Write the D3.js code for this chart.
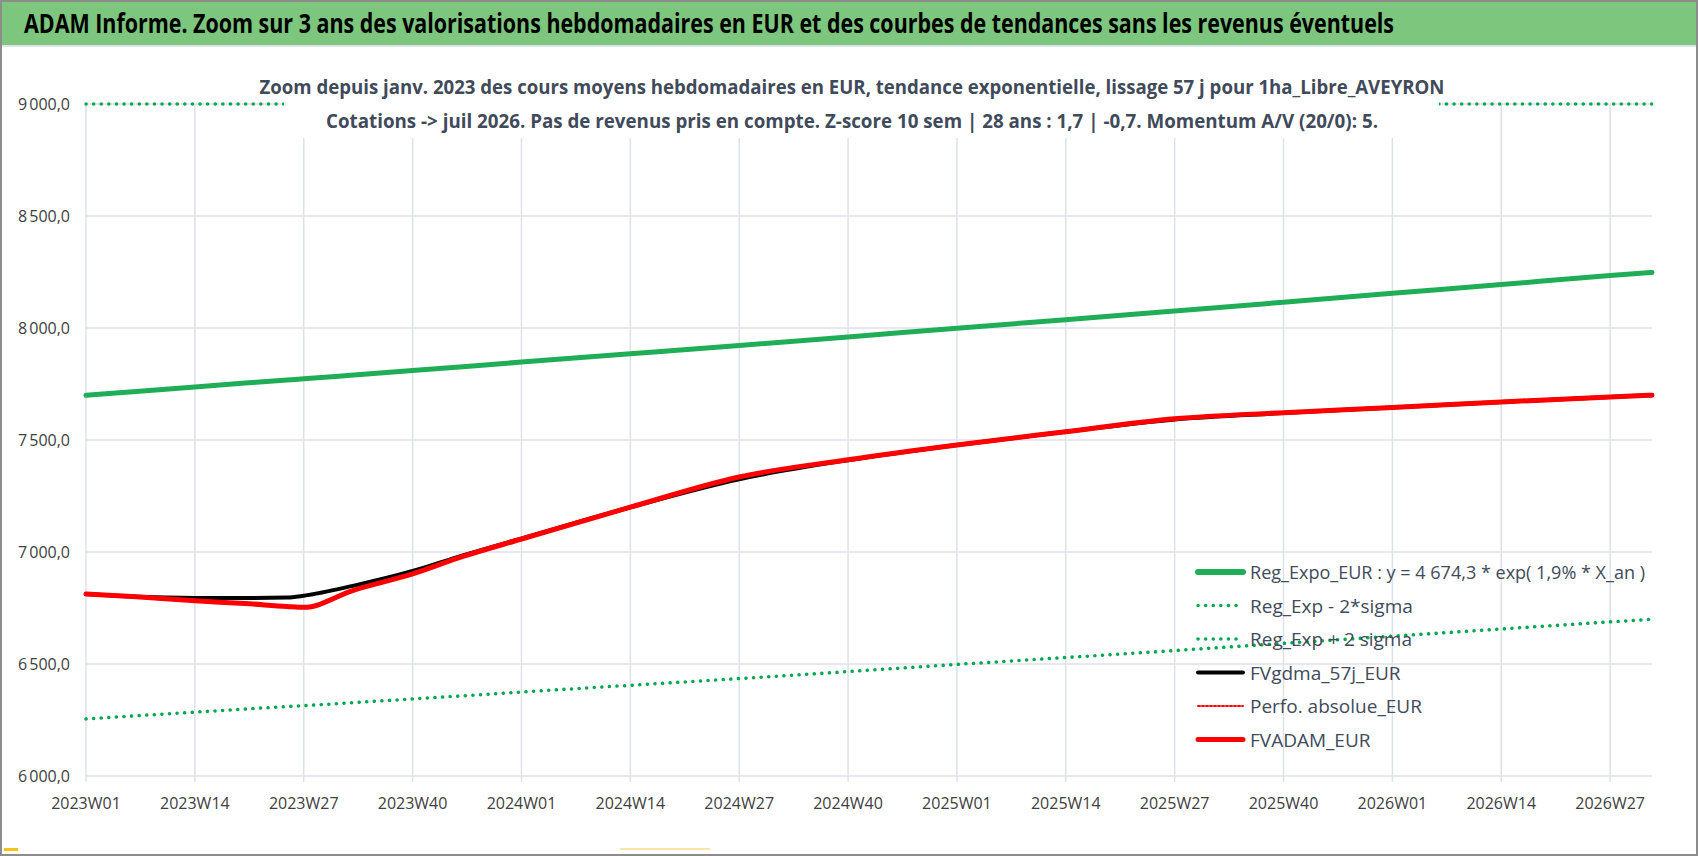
<!DOCTYPE html>
<html lang="fr">
<head>
<meta charset="UTF-8"/>
<script src="https://cdn.jsdelivr.net/npm/d3@7"></script>
<style>
  html, body { margin: 0; background: white; }
  text { font-family: "Liberation Sans Narrow", "Open Sans", sans-serif; }
</style>
</head>
<body>
<div id="container"></div>
<script>
    const sampleWeeks = [0, 6, 13, 19, 24, 26, 32, 39, 45, 52, 65, 78, 91, 104, 117, 130, 143, 156, 169, 182, 187]
    const fvAdam = [6812, 6800, 6782, 6770, 6757, 6753, 6830, 6902, 6980, 7058, 7200, 7335, 7412, 7478, 7537, 7595, 7622, 7645, 7670, 7692, 7700]
    const fvGdma = [6812, 6800, 6795, 6795, 6797, 6805, 6850, 6915, 6985, 7060, 7200, 7325, 7410, 7478, 7537, 7592, 7620, 7645, 7670, 7692, 7700]
    const regExpo = [7700, 7717, 7737, 7754, 7768, 7773, 7790, 7810, 7827, 7848, 7885, 7922, 7960, 7999, 8037, 8076, 8115, 8155, 8194, 8234, 8248]
    const regMinus = [6255, 6269, 6285, 6299, 6310, 6314, 6328, 6344, 6358, 6375, 6405, 6435, 6466, 6498, 6529, 6560, 6592, 6624, 6656, 6688, 6700]
    const regPlus = [9148, 9168, 9192, 9212, 9228, 9234, 9254, 9278, 9298, 9323, 9367, 9411, 9456, 9503, 9548, 9594, 9640, 9688, 9734, 9782, 9799]

    const tickLabels = ['2023W01', '2023W14', '2023W27', '2023W40', '2024W01', '2024W14', '2024W27', '2024W40',
        '2025W01', '2025W14', '2025W27', '2025W40', '2026W01', '2026W14', '2026W27']
    const tickWeeks = [0, 13, 26, 39, 52, 65, 78, 91, 104, 117, 130, 143, 156, 169, 182]
    const yTicks = [6000, 6500, 7000, 7500, 8000, 8500, 9000]

    const W = 1698, H = 856
    const svg = d3.select('#container').append('svg').attr('width', W).attr('height', H)

    // frame + title bar
    svg.append('rect').attr('x', 1).attr('y', 1).attr('width', W - 2).attr('height', H - 2)
        .attr('fill', 'white').attr('stroke', '#8c8c8c').attr('stroke-width', 2)
    svg.append('rect').attr('x', 2).attr('y', 2).attr('width', W - 4).attr('height', 43).attr('fill', '#7dc67e')
    svg.append('line').attr('x1', 2).attr('x2', W - 2).attr('y1', 46).attr('y2', 46).attr('stroke', '#dfe3ea').attr('stroke-width', 2)
    svg.append('text').attr('x', 24).attr('y', 33).attr('font-size', 26).attr('font-weight', 'bold').attr('fill', '#000')
        .attr('textLength', 1370).attr('lengthAdjust', 'spacingAndGlyphs')
        .text('ADAM Informe. Zoom sur 3 ans des valorisations hebdomadaires en EUR et des courbes de tendances sans les revenus éventuels')

    const x = d3.scaleLinear().domain([0, 187]).range([86, 1652])
    const y = d3.scaleLinear().domain([6000, 9000]).range([776, 104]).clamp(true)

    const g = svg.append('g')

    // gridlines
    g.selectAll('.hg').data(yTicks).join('line')
        .attr('x1', x(0)).attr('x2', 1652).attr('y1', d => y(d)).attr('y2', d => y(d))
        .attr('stroke', '#dde1ea').attr('stroke-width', 1.5)
    g.selectAll('.vg').data(tickWeeks).join('line')
        .attr('x1', d => x(d)).attr('x2', d => x(d)).attr('y1', y(9000)).attr('y2', y(6000) + 6)
        .attr('stroke', '#dde1ea').attr('stroke-width', 1.5)

    g.selectAll('.yl').data(yTicks).join('text')
        .attr('x', 70).attr('y', d => y(d) + 6).attr('text-anchor', 'end')
        .attr('font-size', 16).attr('fill', '#404040')
        .text(d => d3.format(',.1f')(d).replace(',', '\u202f').replace('.', ','))
    g.selectAll('.xl').data(tickWeeks).join('text')
        .attr('x', d => x(d)).attr('y', 809).attr('text-anchor', 'middle')
        .attr('font-size', 16).attr('fill', '#404040')
        .text((d, i) => tickLabels[i])

    const line = vals => d3.line().x((d, i) => x(sampleWeeks[i])).y(d => y(d)).curve(d3.curveMonotoneX)(vals)

    const dots = '0.1 7.5'
    const series = [
        {vals: regPlus, color: '#00a650', width: 3.5, dash: dots},
        {vals: regMinus, color: '#00a650', width: 3.5, dash: dots},
        {vals: regExpo, color: '#1fae57', width: 5, dash: null},
        {vals: fvGdma, color: '#000', width: 4, dash: null},
        {vals: fvAdam, color: '#ff0000', width: 5, dash: null}
    ]
    series.forEach(s => {
        g.append('path').attr('d', line(s.vals)).attr('fill', 'none')
            .attr('stroke', s.color).attr('stroke-width', s.width)
            .attr('stroke-linecap', 'round').attr('stroke-dasharray', s.dash)
    })

    // subtitle with white box
    const sub = [
        {t: 'Zoom depuis janv. 2023 des cours moyens hebdomadaires en EUR, tendance exponentielle, lissage 57 j pour 1ha_Libre_AVEYRON', len: 1185},
        {t: 'Cotations -> juil 2026. Pas de revenus pris en compte. Z-score 10 sem | 28 ans : 1,7 | -0,7. Momentum A/V (20/0): 5.', len: 1052}
    ]
    svg.append('rect').attr('x', 284).attr('y', 66).attr('width', 1155).attr('height', 72).attr('fill', 'white')
    svg.selectAll('.sub').data(sub).join('text')
        .attr('x', 852).attr('y', (d, i) => 94 + i * 34).attr('text-anchor', 'middle')
        .attr('font-size', 20).attr('font-weight', 'bold').attr('fill', '#404a5a')
        .attr('textLength', d => d.len).attr('lengthAdjust', 'spacingAndGlyphs')
        .text(d => d.t)

    // legend
    const legend = [
        {color: '#1fae57', width: 6, dash: null, label: 'Reg_Expo_EUR : y = 4 674,3 * exp( 1,9% *  X_an )', len: 395},
        {color: '#00a650', width: 3.5, dash: dots, label: 'Reg_Exp - 2*sigma'},
        {color: '#00a650', width: 3.5, dash: dots, label: 'Reg_Exp + 2 sigma'},
        {color: '#000', width: 4, dash: null, label: 'FVgdma_57j_EUR'},
        {color: '#ff0000', width: 2, dash: '2 2', label: 'Perfo. absolue_EUR'},
        {color: '#ff0000', width: 5, dash: null, label: 'FVADAM_EUR'}
    ]
    const lg = svg.append('g').selectAll('g').data(legend).join('g')
        .attr('transform', (d, i) => `translate(1198,${572 + i * 33.5})`)
    lg.append('line').attr('x1', 0).attr('x2', 45).attr('stroke', d => d.color)
        .attr('stroke-width', d => d.width).attr('stroke-dasharray', d => d.dash).attr('stroke-linecap', 'round')
    lg.append('text').attr('x', 52).attr('y', 7).attr('font-size', 19).attr('fill', '#404a5a')
        .attr('textLength', d => d.len || null).attr('lengthAdjust', 'spacingAndGlyphs').text(d => d.label)

    svg.append('rect').attr('x', 4).attr('y', 848).attr('width', 14).attr('height', 3).attr('fill', '#f5c218')
    svg.append('rect').attr('x', 620).attr('y', 848).attr('width', 90).attr('height', 2).attr('fill', '#f5e6a8')
</script>
</body>
</html>
